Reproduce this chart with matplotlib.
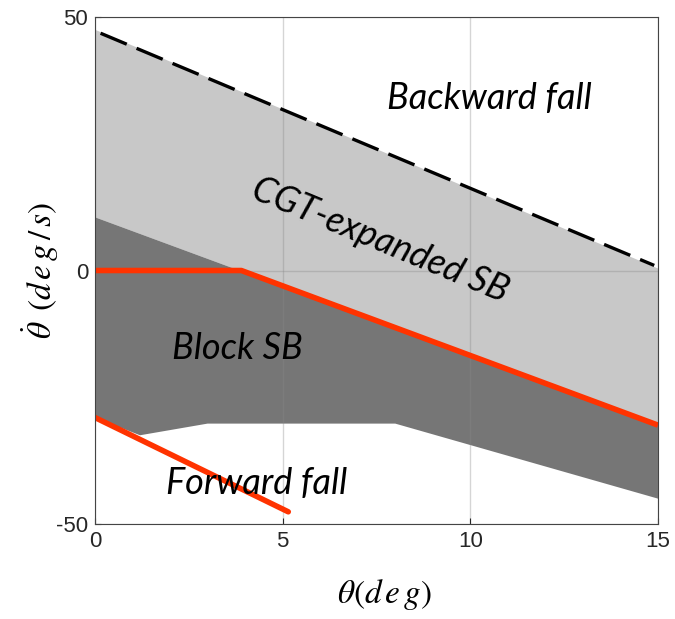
import numpy as np
import matplotlib.pyplot as plt

plt.rcParams['mathtext.fontset'] = 'stix'

# boundaries
top_x = [0, 15]
top_y = [47.5, 0.4]            # CGT-expanded stability boundary (dashed)
dash_x = [0.15, 14.9]
dash_y = [46.8, 1.0]
block_top_x = [0, 15]
block_top_y = [10.5, -30.5]    # upper edge of block SB
block_bot_x = [0, 1.2, 3, 8, 15]
block_bot_y = [-29, -32.5, -30.2, -30.2, -45]
red_x = [0, 3.9, 15]
red_y = [0, 0, -30.5]
fwd_x = [0, 5.15]
fwd_y = [-29, -47.6]

fig = plt.figure(figsize=(6.75, 6.19), dpi=100)
ax = fig.add_axes([0.1407, 0.1535, 0.8341, 0.819])

# light gray region between dashed line and block top
ax.fill(top_x + block_top_x[::-1], top_y + block_top_y[::-1], color='#c8c8c8', lw=0, zorder=1)
# dark gray block region
poly_x = block_top_x + block_bot_x[::-1]
poly_y = block_top_y + block_bot_y[::-1]
ax.fill(poly_x, poly_y, color='#767676', lw=0, zorder=1)

ax.plot(dash_x, dash_y, color='black', lw=2.4, dashes=(8.5, 3.2), zorder=3)
ax.plot(red_x, red_y, color='#ff3300', lw=4, zorder=4, solid_capstyle='butt')
ax.plot(fwd_x, fwd_y, color='#ff3300', lw=4, zorder=4, solid_capstyle='round')

ax.set_xlim(0, 15)
ax.set_ylim(-50, 50)
ax.set_xticks([0, 5, 10, 15])
ax.set_yticks([-50, 0, 50])
ax.set_yticklabels(['-50', '0', '50'])
ax.grid(True, color='#888888', alpha=0.35, lw=1, zorder=2)
ax.set_axisbelow(False)
ax.tick_params(direction='in', labelsize=16, colors='#262626', length=4, pad=5)
for lab in ax.get_xticklabels() + ax.get_yticklabels():
    lab.set_family('Liberation Sans')
for s in ax.spines.values():
    s.set_color('#444444')
    s.set_linewidth(0.8)
    s.set_zorder(5)

tf = dict(fontsize=26, style='italic', family='Lato', ha='center', va='center', zorder=6)
ax.text(10.5, 34, 'Backward fall', **tf)
ax.text(7.6, 6, 'CGT-expanded SB', rotation=-22.5, rotation_mode='anchor', **tf)
ax.text(3.8, -15.4, 'Block SB', **tf)
ax.text(4.3, -42, 'Forward fall', **tf)

ax.set_xlabel(r'$\theta(d\,e\,g)$', fontsize=24)
ax.set_ylabel(r'$\dot{\theta}\ \,(d\,e\,g\,/\,s)$', fontsize=24)
ax.xaxis.set_label_coords(0.515, -0.105)
ax.yaxis.set_label_coords(-0.06, 0.5)

fig.savefig('out.png', dpi=100)
